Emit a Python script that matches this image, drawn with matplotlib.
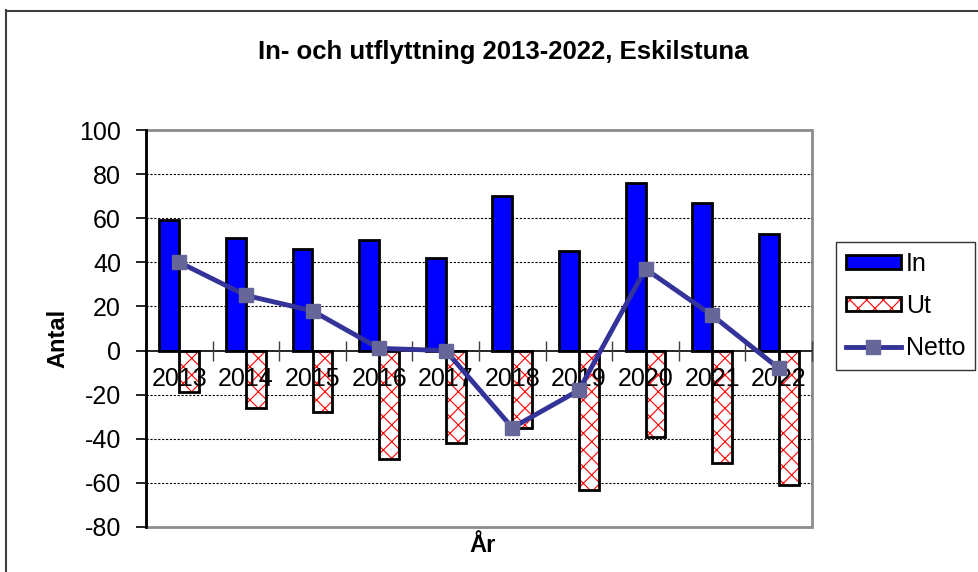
import matplotlib.pyplot as plt
from matplotlib.patches import Patch, Rectangle
from matplotlib.lines import Line2D
import numpy as np

plt.rcParams['font.family'] = ['Liberation Sans', 'DejaVu Sans']
plt.rcParams['axes.unicode_minus'] = False
plt.rcParams['hatch.linewidth'] = 0.8

years = ['2013', '2014', '2015', '2016', '2017', '2018', '2019', '2020', '2021', '2022']
inflytt = [59, 51, 46, 50, 42, 70, 45, 76, 67, 53]
utflytt = [-19, -26, -28, -49, -42, -35, -63, -39, -51, -61]
netto = [40, 25, 18, 1, 0, -35, -18, 37, 16, -8]

fig = plt.figure(figsize=(9.79, 5.72), dpi=100)
ax = fig.add_axes([146/979, 1-527/572, (812-146)/979, (527-130)/572])

x = np.arange(len(years))
w = 0.3

ax.bar(x - w/2, inflytt, w, color='#0000FF', edgecolor='black', linewidth=2, zorder=2)
ax.bar(x + w/2, utflytt, w, color='white', edgecolor='red', hatch='xx', linewidth=0, zorder=2)
ax.bar(x + w/2, utflytt, w, fill=False, edgecolor='black', linewidth=2, zorder=2.1)
ax.plot(x, netto, color='#333399', linewidth=3.5, marker='s', markersize=10,
        markerfacecolor='#666699', markeredgecolor='#666699', zorder=4)

ax.set_xlim(-0.5, len(years) - 0.5)
ax.set_ylim(-80, 100)
ax.set_yticks(range(-80, 101, 20))
ax.tick_params(axis='y', labelsize=18, length=7, width=1.2, direction='out', pad=11)

ax.set_xticks(x)
ax.set_xticklabels(years)
ax.set_xticks(np.arange(-0.5, len(years)), minor=True)
ax.tick_params(axis='x', which='major', length=0, pad=12, labelsize=18)
ax.tick_params(axis='x', which='minor', length=14, width=1, direction='inout', color='#404040')
ax.xaxis.set_zorder(3)

for v in [-60, -40, -20, 20, 40, 60, 80]:
    ax.axhline(v, color='black', linestyle=(0, (2, 1.5)), linewidth=0.8, zorder=1)

ax.spines['bottom'].set_position(('data', 0))
ax.spines['bottom'].set_linewidth(1.2)
ax.spines['bottom'].set_zorder(3)
ax.spines['left'].set_linewidth(2)
ax.spines['left'].set_zorder(5)
ax.spines['top'].set_visible(False)
ax.spines['right'].set_visible(False)
ax.add_patch(Rectangle((0, 0), 1, 1, transform=ax.transAxes, fill=False,
                       edgecolor='#8c8c8c', linewidth=2, zorder=0, clip_on=False))

fig.text(503/979, 1-52/572, 'In- och utflyttning 2013-2022, Eskilstuna',
         ha='center', va='center', fontsize=18.5, fontweight='bold')
fig.text(58/979, 1-338/572, 'Antal', rotation=90, ha='center', va='center',
         fontsize=17, fontweight='bold')
fig.text(483/979, 1-546/572, 'År', ha='center', va='center', fontsize=17, fontweight='bold')

h_in = Patch(facecolor='#0000FF', edgecolor='black', linewidth=2)
h_ut = (Patch(facecolor='white', edgecolor='red', hatch='xx', linewidth=0),
        Patch(fill=False, edgecolor='black', linewidth=2))
h_net = Line2D([], [], color='#333399', linewidth=3.5, marker='s', markersize=10,
               markerfacecolor='#666699', markeredgecolor='#666699')
leg = fig.legend([h_in, h_ut, h_net], ['In', 'Ut', 'Netto'], loc='upper left',
                 bbox_to_anchor=(836/979, 1-242/572), borderaxespad=0, fontsize=18,
                 frameon=True, fancybox=False, edgecolor='black', handlelength=2.2,
                 handleheight=0.5, handletextpad=0.2, labelspacing=0.72, borderpad=0.4)
leg.get_frame().set_linewidth(1)

fig.add_artist(Line2D([6.5/979, 6.5/979], [0, 1-10/572], color='#404040', linewidth=1.5))
fig.add_artist(Line2D([6/979, 1], [1-10.5/572, 1-10.5/572], color='#404040', linewidth=1.5))

fig.savefig('out.png', dpi=100)
